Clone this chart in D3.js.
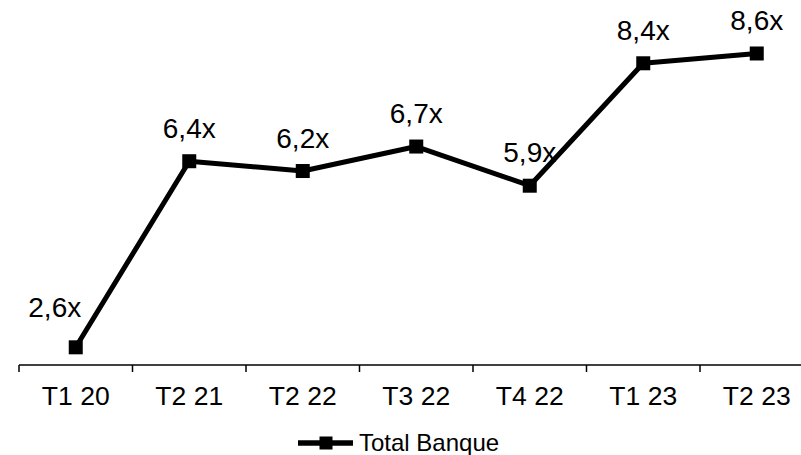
<!DOCTYPE html>
<html><head><meta charset="utf-8">
<script src="https://cdn.jsdelivr.net/npm/d3@7"></script>
<style>body{margin:0;background:#fff}svg{display:block}text{font-family:"Liberation Sans",Arial,sans-serif;fill:#000}</style>
</head><body><svg id="c" width="801" height="455"></svg>
<script>
const categories = ["T1 20","T2 21","T2 22","T3 22","T4 22","T1 23","T2 23"];
const values = [2.6, 6.4, 6.2, 6.7, 5.9, 8.4, 8.6];
const seriesName = "Total Banque";

const svg = d3.select("#c");
const x = d3.scaleBand().domain(categories).range([19, 19 + 7*113.5]);
const y = d3.scaleLinear().domain([2, 9]).range([376.7, 33.9]);
const axisY = 365;

// axis
const ax = svg.append("g").attr("transform", `translate(0,${axisY})`);
ax.append("line").attr("x1", x.range()[0]).attr("x2", x.range()[1]).attr("stroke", "#000").attr("stroke-width", 1.5);
const bounds = categories.map(c => x(c)).concat([x.range()[1]]);
ax.selectAll("line.t").data(bounds).join("line").attr("class","t")
  .attr("x1", d => d).attr("x2", d => d).attr("y1", 0).attr("y2", 7).attr("stroke","#000").attr("stroke-width",1.5);
ax.selectAll("text").data(categories).join("text")
  .attr("x", d => x(d) + x.bandwidth()/2).attr("y", 40).attr("text-anchor","middle")
  .attr("font-size", 26.5).text(d => d);

const cx = (d,i) => x(categories[i]) + x.bandwidth()/2;
const line = d3.line().x((d,i) => cx(d,i)).y(d => y(d));
svg.append("path").datum(values).attr("d", line).attr("fill","none").attr("stroke","#000").attr("stroke-width",5).attr("stroke-linejoin","round");
const ms = 14;
svg.selectAll("rect.m").data(values).join("rect").attr("class","m")
  .attr("x", (d,i) => cx(d,i) - ms/2).attr("y", d => y(d) - ms/2).attr("width", ms).attr("height", ms).attr("fill","#000");

const fmt = v => d3.format(".1f")(v).replace(".", ",") + "x";
svg.selectAll("text.lbl").data(values).join("text").attr("class","lbl")
  .attr("x", (d,i) => i === 0 ? cx(d,i) - 21 : cx(d,i))
  .attr("y", (d,i) => i === 0 ? y(d) - 30 : y(d) - 23.5)
  .attr("text-anchor","middle").attr("font-size", 28).text(fmt);

// legend
const lg = svg.append("g");
lg.append("line").attr("x1", 298).attr("x2", 353).attr("y1", 443).attr("y2", 443).attr("stroke","#000").attr("stroke-width",5.5);
lg.append("rect").attr("x", 319.5).attr("y", 436.5).attr("width", 13).attr("height", 13).attr("fill","#000");
lg.append("text").attr("x", 359).attr("y", 450.5).attr("font-size", 24).text(seriesName);
</script></body></html>
